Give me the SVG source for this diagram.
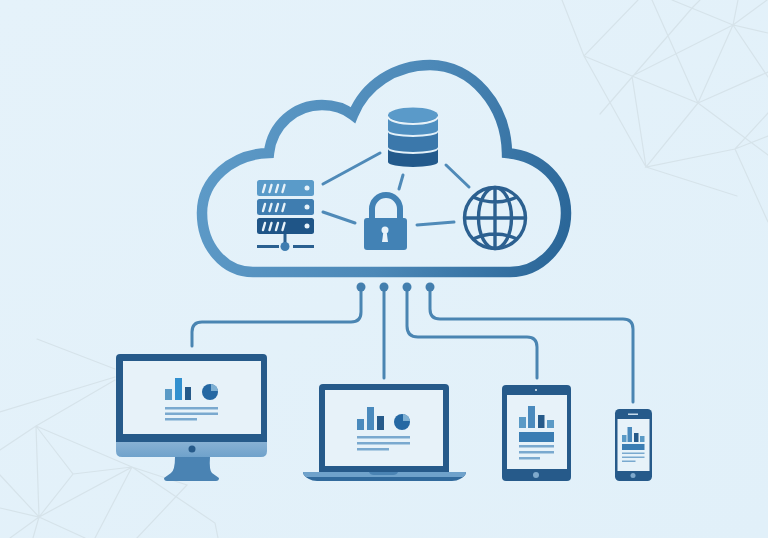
<svg xmlns="http://www.w3.org/2000/svg" width="768" height="538" viewBox="0 0 768 538">
<style>
.mesh{fill:none;stroke:#d6e3ea;stroke-width:1.2;stroke-linecap:round}
.link{fill:none;stroke:#4f8ab8;stroke-width:3;stroke-linecap:round}
.wire{fill:none;stroke:#4a85b2;stroke-width:3;stroke-linecap:round}
.port{fill:#447fae}
.frame{fill:#265a8a}
.screen{fill:#e7f2f9}
.b1{fill:#5a9ac6}.b2{fill:#3290cf}.b3{fill:#265a8a}.b4{fill:#4a8abd}
.pl{fill:#7aa9cf}
.slash{fill:none;stroke:#e7f2f9;stroke-width:2.4;stroke-linecap:round}
.glb{fill:none;stroke:#2c6090;stroke-width:3.400}
</style>
<defs>
<linearGradient id="bg" x1="0" y1="0" x2="1" y2="1"><stop offset="0" stop-color="#e5f2fa"/><stop offset="1" stop-color="#e1f0f9"/></linearGradient>
<linearGradient id="cl" gradientUnits="userSpaceOnUse" x1="197" y1="120" x2="571" y2="230"><stop offset="0" stop-color="#5f9cc9"/><stop offset="0.55" stop-color="#4c88b7"/><stop offset="1" stop-color="#2a6698"/></linearGradient>
<linearGradient id="chin" x1="0" y1="0" x2="0" y2="1"><stop offset="0" stop-color="#88b1d4"/><stop offset="1" stop-color="#6fa2cb"/></linearGradient>
</defs>
<rect width="768" height="538" fill="url(#bg)"/>
<g id="mesh-top-right">
<path class="mesh" d="M562 0L584 56L638 0M584 56L632 76L698 103L733 25L768 33M584 56L646 167L632 76L733 25M600 114L693 7L700 0M652 0L698 103M672 0L733 25L738 0M733 25L767 0M733 25L768 77M698 103L768 72M698 103L646 167L735 149L768 136M698 103L768 155M646 167L737 196M735 149L768 113M735 149L768 222"/>
</g>
<g id="mesh-bottom-left">
<path class="mesh" d="M37 339L115 369M0 412L115 377M36 426L115 380M36 426L0 450M36 426L39 517L0 475M36 426L73 474L39 517M36 426L132 467L39 517L0 508M73 474L132 467M39 517L10 538M39 517L33 538M39 517L85 538M132 467L95 538M132 467L215 523L218 538M132 467L187 485L137 538"/>
</g>
<g id="connectors">
<path class="link" d="M323 184L380 153M323 212L355 223M403 175L399 189M446 165L469 187M417 225L454 222"/>
<path class="wire" d="M361 287V312Q361 322 351 322H202Q192 322 192 332V346"/>
<path class="wire" d="M384 287V378"/>
<path class="wire" d="M407 287V326Q407 337 418 337H527Q537 337 537 347V378"/>
<path class="wire" d="M430 287V309Q430 319 440 319H623Q633 319 633 329V402"/>
<circle class="port" cx="361" cy="287" r="4.500"/><circle class="port" cx="384" cy="287" r="4.500"/><circle class="port" cx="407" cy="287" r="4.500"/><circle class="port" cx="430" cy="287" r="4.500"/>
</g>
<g id="cloud">
<path fill="none" stroke="url(#cl)" stroke-width="10.500" stroke-linejoin="miter" d="M253 272C224 272 202 246 202 213C202 180 232 154 269 153C272 125 295 105 322 105C334 105 344 108 353 115C365 85 395 65 430 65C472 65 506 105 507 153C540 156 566 180 566 213C566 246 540 272 510 272Z"/>
</g>
<g id="database">
<path fill="#235a8c" d="M388 149V162A25 5 0 0 0 438 162V149A25 5 0 0 1 388 149Z"/>
<path fill="#3b78ab" d="M388 132V147A25 5 0 0 0 438 147V132A25 5 0 0 1 388 132Z"/>
<path fill="#4f8fc0" d="M388 115V130A25 5 0 0 0 438 130V115Z"/>
<ellipse cx="413" cy="115" rx="25" ry="7.500" fill="#5a9ac9"/>
<path fill="none" stroke="#e7f2f9" stroke-width="2" d="M388 116.500A25 7.500 0 0 0 438 116.500"/>
</g>
<g id="server">
<rect x="257" y="180" width="57" height="16" rx="2.500" fill="#5a9bc9"/>
<rect x="257" y="199" width="57" height="16" rx="2.500" fill="#3f7db0"/>
<rect x="257" y="218" width="57" height="16" rx="2.500" fill="#1f5587"/>
<path class="slash" d="M263 192L265 185M269.500 192L271.500 185M276 192L278 185M282.500 192L284.500 185M263 211L265 204M269.500 211L271.500 204M276 211L278 204M282.500 211L284.500 204M263 230L265 223M269.500 230L271.500 223M276 230L278 223M282.500 230L284.500 223"/>
<circle cx="307" cy="188" r="2.500" fill="#e7f2f9"/><circle cx="307" cy="207" r="2.500" fill="#e7f2f9"/><circle cx="307" cy="226" r="2.500" fill="#e7f2f9"/>
<path d="M285 234V246M257 246.500H279M293 246.500H314" fill="none" stroke="#2a6090" stroke-width="3"/>
<circle cx="285" cy="246.500" r="4.500" fill="#3f7db0"/>
</g>
<g id="lock">
<path d="M372 220V209A14 14 0 0 1 400 209V220" fill="none" stroke="#4282b5" stroke-width="6"/>
<rect x="364" y="218" width="43" height="32" rx="3" fill="#4282b5"/>
<circle cx="385" cy="230" r="3.500" fill="#e7f2f9"/>
<path d="M383.500 231H386.500L388 242H382Z" fill="#e7f2f9"/>
</g>
<g id="globe">
<circle class="glb" cx="495" cy="218" r="30.500"/>
<ellipse class="glb" cx="495" cy="218" rx="16.500" ry="30.500"/>
<path class="glb" d="M495 187.500V248.500M464.500 218H525.500M473 197Q495 207 517 197M473 239Q495 229 517 239"/>
</g>
<g id="monitor">
<path d="M175 457H210Q209 470 212 473L219 478Q219 481 216 481H167Q164 481 164 478L171 473Q175 470 175 457Z" fill="#4a83b3"/>
<path d="M116 442H267V451Q267 457 261 457H122Q116 457 116 451Z" fill="url(#chin)"/>
<path class="frame" d="M120 354H263Q267 354 267 358V442H116V358Q116 354 120 354Z"/>
<rect class="screen" x="123" y="361" width="138" height="73"/>
<circle cx="192" cy="449" r="3.500" fill="#265a8a"/>
<rect class="b1" x="165" y="389" width="7" height="11"/><rect class="b2" x="175" y="378" width="7" height="22"/><rect class="b3" x="185" y="387" width="6" height="13"/>
<circle cx="210" cy="392" r="8" fill="#2568a3"/><path d="M211 384A8 8 0 0 1 218 391H211Z" fill="#7fb0d3"/>
<rect class="pl" x="165" y="407" width="53" height="2.500"/><rect class="pl" x="165" y="412.500" width="53" height="2.500"/><rect class="pl" x="165" y="418" width="32" height="2.500"/>
</g>
<g id="laptop">
<path class="frame" d="M323 384H445Q449 384 449 388V473H319V388Q319 384 323 384Z"/>
<rect class="screen" x="325" y="390" width="118" height="76"/>
<path d="M303 472H466Q466 476 460 479Q457 481 452 481H317Q312 481 309 479Q303 476 303 472Z" fill="#316a9c"/>
<path d="M303 472H466Q466 475 463 477H306Q303 475 303 472Z" fill="#6fa2cb"/>
<path d="M369 472H398Q397 475 393 475H374Q370 475 369 472Z" fill="#4a83b3"/>
<rect class="b4" x="357" y="419" width="7" height="11"/><rect class="b4" x="367" y="407" width="7" height="23"/><rect class="b3" x="377" y="416" width="7" height="14"/>
<circle cx="402" cy="422" r="8" fill="#2568a3"/><path d="M403 414A8 8 0 0 1 410 421H403Z" fill="#7fb0d3"/>
<rect class="pl" x="357" y="436" width="53" height="2.500"/><rect class="pl" x="357" y="442" width="53" height="2.500"/><rect class="pl" x="357" y="448" width="32" height="2.500"/>
</g>
<g id="tablet">
<rect class="frame" x="502" y="385" width="69" height="96" rx="4"/>
<rect class="screen" x="507" y="395" width="60" height="74"/>
<circle cx="536" cy="390" r="1" fill="#e7f2f9"/>
<circle cx="536" cy="475" r="3" fill="#7fa9cc"/>
<rect class="b1" x="519" y="417" width="7" height="11"/><rect class="b4" x="528" y="406" width="7" height="22"/><rect class="b3" x="538" y="415" width="6.500" height="13"/><rect class="b1" x="547" y="420" width="7" height="8"/>
<rect x="519" y="432" width="35" height="10" fill="#3a7db3"/>
<rect class="pl" x="519" y="445" width="35" height="2.500"/><rect class="pl" x="519" y="451" width="35" height="2.500"/><rect class="pl" x="519" y="457" width="21" height="2.500"/>
</g>
<g id="phone">
<rect class="frame" x="615" y="409" width="37" height="72" rx="4.500"/>
<rect class="screen" x="617.500" y="419" width="32" height="52"/>
<rect x="628" y="413.500" width="10" height="1.500" fill="#c7dcec"/>
<circle cx="633" cy="475.500" r="2.500" fill="#7fa9cc"/>
<rect class="b1" x="622" y="435" width="4.500" height="7"/><rect class="b4" x="627.500" y="427" width="4.500" height="15"/><rect class="b3" x="634" y="433" width="4.500" height="9"/><rect class="b1" x="640" y="436" width="4.500" height="6"/>
<rect x="622" y="444" width="22.500" height="6" fill="#3a7db3"/>
<rect class="pl" x="622" y="452.500" width="22.500" height="1.500"/><rect class="pl" x="622" y="456.500" width="22.500" height="1.500"/><rect class="pl" x="622" y="460.500" width="13.500" height="1.500"/>
</g>
</svg>
